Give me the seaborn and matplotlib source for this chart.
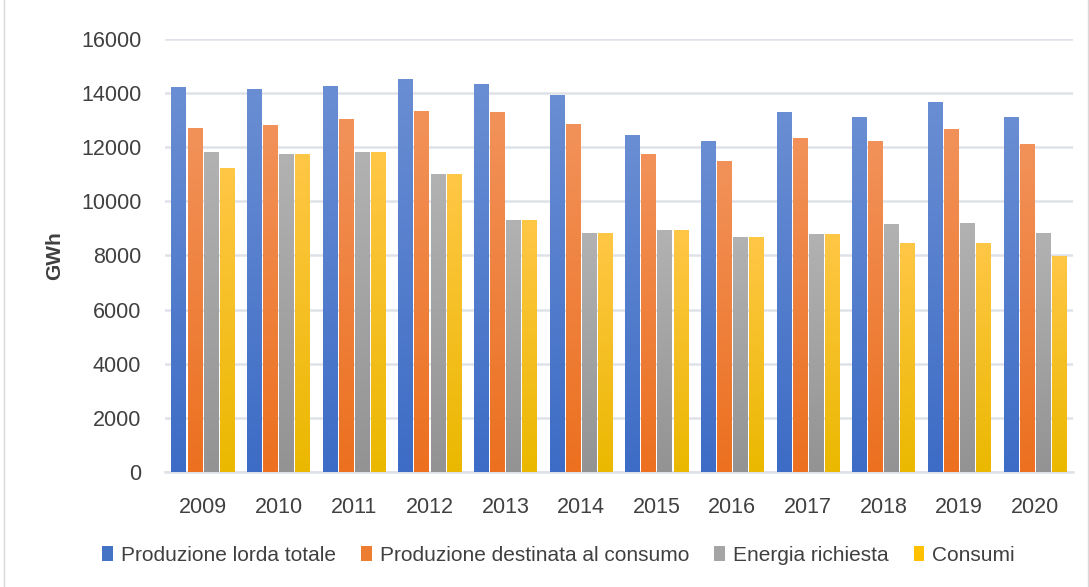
import numpy as np
import pandas as pd
import matplotlib
matplotlib.use("Agg")
import matplotlib.pyplot as plt
from matplotlib.colors import LinearSegmentedColormap
from matplotlib.patches import Patch, Rectangle
import seaborn as sns

# Data (GWh)
anni = ['2009', '2010', '2011', '2012', '2013', '2014', '2015', '2016',
        '2017', '2018', '2019', '2020']
produzione_lorda = [14200, 14120, 14260, 14520, 14340, 13930, 12450, 12230,
                    13300, 13120, 13640, 13120]
produzione_consumo = [12710, 12790, 13010, 13340, 13300, 12860, 11720, 11460,
                      12310, 12200, 12640, 12120]
energia_richiesta = [11790, 11750, 11790, 10980, 9280, 8800, 8940, 8650,
                     8760, 9130, 9170, 8830]
consumi = [11230, 11750, 11790, 10980, 9280, 8800, 8940, 8650,
           8760, 8430, 8460, 7980]
serie = ['Produzione lorda totale', 'Produzione destinata al consumo',
         'Energia richiesta', 'Consumi']

df = pd.DataFrame({
    'anno': anni * 4,
    'valore': produzione_lorda + produzione_consumo + energia_richiesta + consumi,
    'serie': np.repeat(serie, len(anni)),
})

# (top, bottom) colours of the gradient fill
gradienti = [('#6A8ED3', '#3D6CC6'), ('#F2925A', '#EC701F'),
             ('#B2B2B2', '#939393'), ('#FFC746', '#EBB800')]
base = ['#4472C4', '#ED7D31', '#A5A5A5', '#FFC000']

sns.set_style('white')
plt.rcParams['font.family'] = ['Liberation Sans', 'DejaVu Sans']

fig = plt.figure(figsize=(10.89, 5.87), dpi=100)
ax = fig.add_axes([0.1515, 0.196, 0.8335, 0.7375])

sns.barplot(data=df, x='anno', y='valore', hue='serie', palette=base,
            width=0.85, gap=0.1, legend=False, ax=ax)

grad = np.linspace(0, 1, 256).reshape(-1, 1)
for cont, (top, bot) in zip(ax.containers, gradienti):
    cmap = LinearSegmentedColormap.from_list('g', [bot, top])
    for bar in cont:
        x, w, h = bar.get_x(), bar.get_width(), bar.get_height()
        bar.set_visible(False)
        ax.imshow(grad, cmap=cmap, origin='lower', aspect='auto',
                  extent=[x, x + w, 0, h], zorder=3, interpolation='bilinear')
ax.set_xlim(-0.5, 11.5)
ax.set_ylim(0, 16000)

ax.set_yticks(range(0, 16001, 2000))
ax.yaxis.grid(True, color='#DEE2E8', linewidth=1.8, zorder=0)
ax.set_axisbelow(True)
for s in ['top', 'right', 'left']:
    ax.spines[s].set_visible(False)
ax.spines['bottom'].set_color('#DEE2E8')
ax.spines['bottom'].set_linewidth(1.8)
ax.tick_params(axis='both', length=0, labelsize=15.5, colors='#404040')
ax.tick_params(axis='x', pad=18)
ax.tick_params(axis='y', pad=17)
ax.set_xlabel('')
ax.set_ylabel('GWh', fontsize=15, fontweight='bold', color='#404040', labelpad=12)

handles = [Patch(facecolor=c, edgecolor='none') for c in base]
fig.legend(handles, serie, loc='center', bbox_to_anchor=(0.513, 0.054), ncol=4,
           frameon=False, fontsize=15, handlelength=0.5, handleheight=0.7,
           handletextpad=0.4, columnspacing=1.2, labelcolor='#404040')

fig.patches.append(Rectangle((0.004, -0.01), 0.995, 1.02, transform=fig.transFigure,
                             fill=False, edgecolor='#D9D9D9', linewidth=1))

fig.savefig('out.png', dpi=100)
